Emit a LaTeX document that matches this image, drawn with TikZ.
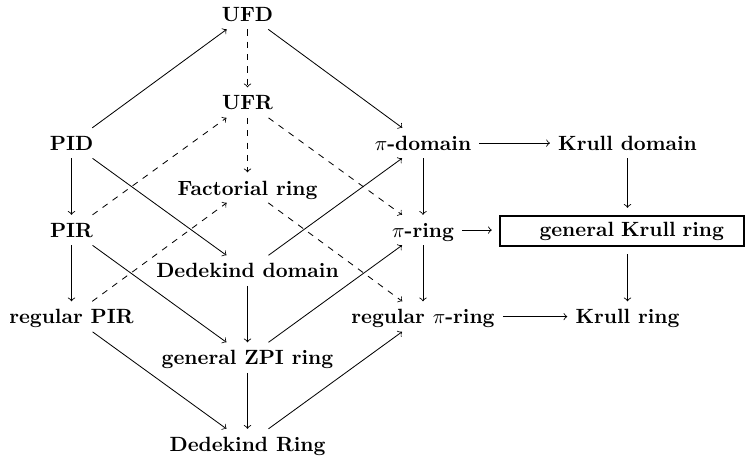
\documentclass[tikz,border=0pt]{standalone}
\usepackage{tikz}

\begin{document}
\begin{tikzpicture}[x=0.485pt,y=0.485pt,yscale=-1,xscale=1,
    ring/.style={anchor=base,font=\bfseries,inner xsep=3.8pt,inner ysep=2pt,text height=8.8pt,text depth=1.6pt},
    boxed/.style={anchor=base,font=\bfseries,draw,line width=1pt,outer sep=4pt,text width=98.9pt,align=right,inner xsep=9.7pt,inner ysep=2.5pt,text height=7.5pt,text depth=2pt},
    imp/.style={->},
    weak/.style={->,dashed}]
    \useasboundingbox (0,0) rectangle (745,461);
    
    % Text Node
    \node[ring] (ufd) at (247.5,21.5) {UFD};
    % Text Node
    \node[ring] (ufr) at (247.5,110) {UFR};
    % Text Node
    \node[ring] (pid) at (71.5,150.5) {PID};
    % Text Node
    \node[ring] (pidom) at (423,150.5) {$\pi$-domain};
    % Text Node
    \node[ring] (krdom) at (627.5,150.5) {Krull domain};
    % Text Node
    \node[ring] (fact) at (247.5,195) {Factorial ring};
    % Text Node
    \node[ring] (pir) at (71.5,237.5) {PIR};
    % Text Node
    \node[ring] (pring) at (423,237.5) {$\pi$-ring};
    % Text Node
    \node[boxed] (gkr) at (622,236.7) {general Krull ring};
    % Text Node
    \node[ring] (dedd) at (247.5,278) {Dedekind domain};
    % Text Node
    \node[ring] (rpir) at (71.5,324) {regular PIR};
    % Text Node
    \node[ring] (rpring) at (423,324) {regular $\pi$-ring};
    % Text Node
    \node[ring] (kr) at (627.5,324) {Krull ring};
    % Text Node
    \node[ring] (zpi) at (247.5,365) {general ZPI ring};
    % Text Node
    \node[ring] (dedr) at (247.5,451.5) {Dedekind Ring};
    
    %Straight Lines
    \draw[imp] (pid) -- (ufd);
    %Straight Lines
    \draw[weak] (ufd) -- (ufr);
    %Straight Lines
    \draw[imp] (ufd) -- (pidom);
    %Straight Lines
    \draw[weak] (ufr) -- (fact);
    %Straight Lines
    \draw[weak] (ufr) -- (pring);
    %Straight Lines
    \draw[weak] (pir) -- (ufr);
    %Straight Lines
    \draw[imp] (pid) -- (pir);
    %Straight Lines
    \draw[imp] (pid) -- (dedd);
    %Straight Lines
    \draw[imp] (dedd) -- (pidom);
    %Straight Lines
    \draw[imp] (pidom) -- (krdom);
    %Straight Lines
    \draw[imp] (pidom) -- (pring);
    %Straight Lines
    \draw[imp] (krdom) -- (krdom |- gkr.north);
    %Straight Lines
    \draw[imp] (pring) -- (pring -| gkr.west);
    %Straight Lines
    \draw[imp] (kr |- gkr.south) -- (kr);
    %Straight Lines
    \draw[imp] (pring) -- (rpring);
    %Straight Lines
    \draw[imp] (rpring) -- (kr);
    %Straight Lines
    \draw[weak] (rpir) -- (fact);
    %Straight Lines
    \draw[weak] (fact) -- (rpring);
    %Straight Lines
    \draw[imp] (pir) -- (rpir);
    %Straight Lines
    \draw[imp] (pir) -- (zpi);
    %Straight Lines
    \draw[imp] (dedd) -- (zpi);
    %Straight Lines
    \draw[imp] (zpi) -- (pring);
    %Straight Lines
    \draw[imp] (rpir) -- (dedr);
    %Straight Lines
    \draw[imp] (zpi) -- (dedr);
    %Straight Lines
    \draw[imp] (dedr) -- (rpring);
    
\end{tikzpicture}
\end{document}
